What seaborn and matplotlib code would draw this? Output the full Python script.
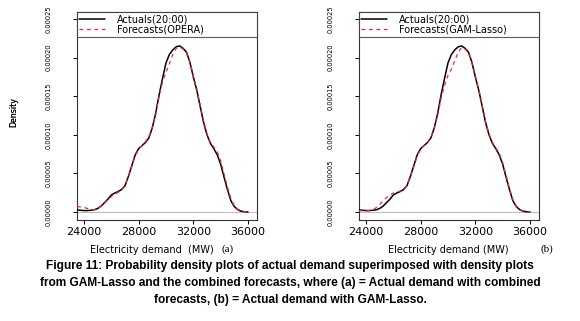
import numpy as np
import matplotlib
matplotlib.use("Agg")
import matplotlib.pyplot as plt
import seaborn as sns

# Density curves (density values in units of 1e-5)
demand = [23500, 23750, 24000, 24250, 24500, 24750, 25000, 25250, 25500, 25750,
          26000, 26250, 26500, 26750, 27000, 27250, 27500, 27750, 28000, 28250,
          28500, 28750, 29000, 29250, 29500, 29750, 30000, 30250, 30500, 30750,
          31000, 31250, 31500, 31750, 32000, 32250, 32500, 32750, 33000, 33250,
          33500, 33750, 34000, 34250, 34500, 34750, 35000, 35250, 35500, 35750,
          36000]
actual = [0.26, 0.22, 0.18, 0.18, 0.22, 0.28, 0.45, 0.75, 1.20, 1.65,
          2.20, 2.45, 2.65, 2.90, 3.40, 4.60, 6.00, 7.40, 8.20, 8.60,
          9.00, 9.60, 10.9, 12.8, 15.2, 17.3, 19.3, 20.4, 21.0, 21.4,
          21.5, 21.2, 20.7, 19.4, 17.5, 15.8, 13.7, 11.6, 10.0, 8.90,
          8.20, 7.40, 6.20, 4.50, 2.90, 1.45, 0.70, 0.30, 0.10, 0.03,
          0.0]
opera = [0.69, 0.65, 0.60, 0.45, 0.30, 0.30, 0.45, 0.75, 1.15, 1.60,
         2.00, 2.30, 2.55, 2.85, 3.40, 4.60, 5.90, 7.30, 8.10, 8.60,
         9.10, 9.70, 10.9, 12.7, 15.0, 16.9, 18.1, 19.2, 20.4, 21.2,
         21.4, 21.1, 20.6, 19.4, 17.6, 15.9, 13.8, 11.8, 10.1, 9.00,
         8.40, 7.80, 6.60, 4.90, 3.20, 1.70, 0.80, 0.35, 0.10, 0.03,
         0.0]
gamlasso = [0.17, 0.15, 0.13, 0.20, 0.30, 0.55, 0.95, 1.45, 1.85, 2.20,
            2.45, 2.60, 2.70, 2.90, 3.40, 4.60, 5.90, 7.30, 8.10, 8.60,
            9.00, 9.60, 10.8, 12.6, 14.8, 16.4, 17.7, 18.5, 19.6, 20.7,
            21.3, 21.1, 20.6, 19.4, 17.6, 15.9, 13.8, 11.7, 10.1, 9.00,
            8.30, 7.60, 6.40, 4.70, 3.00, 1.60, 0.75, 0.30, 0.10, 0.03,
            0.0]

x_ticks = [24000, 28000, 32000, 36000]
y_ticks = [0.0, 0.00005, 0.00010, 0.00015, 0.00020, 0.00025]
y_tick_labels = ["0.00000", "0.00005", "0.00010", "0.00015", "0.00020", "0.00025"]

caption = ("Figure 11: Probability density plots of actual demand superimposed with density plots\n"
           "from GAM-Lasso and the combined forecasts, where (a) = Actual demand with combined\n"
           "forecasts, (b) = Actual demand with GAM-Lasso.")

sns.set_theme(style="white")
plt.rcParams['font.family'] = ['DejaVu Sans']
for key in ['text.color', 'axes.labelcolor', 'xtick.color', 'ytick.color']:
    plt.rcParams[key] = 'black'

fig = plt.figure(figsize=(5.8, 3.21), dpi=100)
W, H = 580, 321


def panel(left_px, forecast, fc_label, xlabel, xlabel_x, tag, tag_x):
    ax = fig.add_axes([left_px / W, (H - 220) / H, 180 / W, 208 / H])
    x = np.array(demand)
    ax.axhline(0, color='0.75', lw=0.8, zorder=1)
    sns.lineplot(x=x, y=np.array(actual) * 1e-5, ax=ax, color='black', lw=1.1,
                 label='Actuals(20:00)', zorder=3)
    sns.lineplot(x=x, y=np.array(forecast) * 1e-5, ax=ax, color='#f02828', lw=0.9,
                 linestyle=(0, (3, 3)), label=fc_label, zorder=4)
    ax.set_xlim(23490, 36660)
    ax.set_ylim(-0.0000104, 0.000259)
    ax.set_xticks(x_ticks)
    ax.set_xticklabels([str(v) for v in x_ticks], fontsize=8)
    ax.set_yticks(y_ticks)
    ax.set_yticklabels(y_tick_labels, fontsize=4.8, rotation=90, va='center')
    ax.tick_params(axis='both', direction='out', length=3, width=0.7, color='black',
                   left=True, bottom=True)
    ax.tick_params(axis='y', pad=15)
    ax.tick_params(axis='x', pad=2)
    for s in ax.spines.values():
        s.set_color('#333333')
        s.set_linewidth(0.8)
    ax.set_ylabel('Density', fontsize=5.7)
    ax.yaxis.set_label_coords((18 - left_px) / 180, 0.52)
    ax.set_xlabel(xlabel, fontsize=7)
    ax.xaxis.set_label_coords(xlabel_x, -0.12)
    leg = ax.legend(loc='upper left', bbox_to_anchor=(0, 1, 1, 0), mode='expand',
                    borderaxespad=0, frameon=True, fancybox=False, fontsize=7,
                    handlelength=2.6, handletextpad=1.3, labelspacing=0.0,
                    borderpad=0.25)
    leg.get_frame().set_edgecolor('#333333')
    leg.get_frame().set_linewidth(0.8)
    for t in leg.get_texts():
        t.set_clip_box(ax.bbox)
        t.set_clip_on(True)
    fig.text(tag_x / W, 1 - 249 / H, tag, family='Liberation Serif', fontsize=8,
             ha='center', va='center')
    return ax


panel(77, opera, 'Forecasts(OPERA)', 'Electricity demand  (MW)', 0.417, '(a)', 228)
panel(359, gamlasso, 'Forecasts(GAM-Lasso)', 'Electricity demand (MW)', 0.494, '(b)', 547)

fig.text(0.5, 1 - 283 / H, caption, family='Liberation Sans', fontweight='bold',
         fontsize=8.6, ha='center', va='center', linespacing=1.6)

fig.savefig('out.png', dpi=100)
